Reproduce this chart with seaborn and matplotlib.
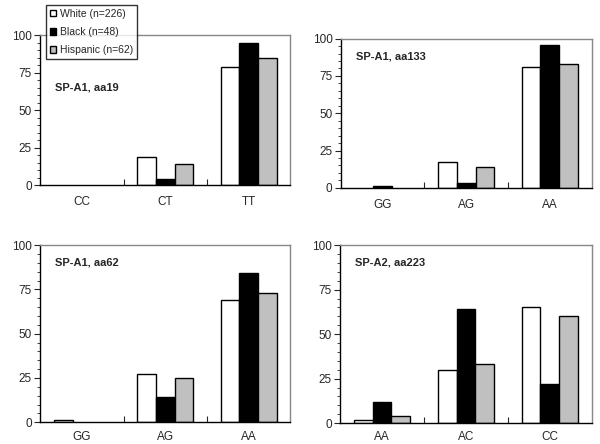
import pandas as pd
import numpy as np
import seaborn as sns
import matplotlib.pyplot as plt
from matplotlib.patches import Patch
from matplotlib.ticker import MultipleLocator, FixedLocator

groups = ['White (n=226)', 'Black (n=48)', 'Hispanic (n=62)']
colors = ['white', 'black', '#c0c0c0']

titles = ['SP-A1, aa19', 'SP-A1, aa133', 'SP-A1, aa62', 'SP-A2, aa223']
genotypes = [['CC', 'CT', 'TT'],
             ['GG', 'AG', 'AA'],
             ['GG', 'AG', 'AA'],
             ['AA', 'AC', 'CC']]
# percentages per genotype: White, Black, Hispanic
white = [[0, 18.5, 79], [0, 17, 81], [1, 27, 69], [2, 30, 65]]
black = [[0, 4, 95], [1, 3, 95.5], [0, 14, 84.5], [12, 64, 22]]
hispanic = [[0, 14, 85], [0, 14, 83], [0, 25, 73], [4, 33, 60]]

sns.set_style('white')
plt.rcParams['font.family'] = ['Liberation Sans', 'DejaVu Sans']

fig = plt.figure(figsize=(6, 4.44), dpi=100)
positions = [[0.067, 0.583, 0.417, 0.338],
             [0.568, 0.577, 0.418, 0.336],
             [0.067, 0.049, 0.417, 0.399],
             [0.567, 0.047, 0.419, 0.401]]
label_y = [65, 88, 90, 90]
xpad = [8, 8, 6, 6]

for i in range(4):
    ax = fig.add_axes(positions[i])
    rows = []
    for j, g in enumerate(genotypes[i]):
        rows.append((g, groups[0], white[i][j]))
        rows.append((g, groups[1], black[i][j]))
        rows.append((g, groups[2], hispanic[i][j]))
    df = pd.DataFrame(rows, columns=['genotype', 'group', 'pct'])
    sns.barplot(data=df, x='genotype', y='pct', hue='group', palette=colors,
                width=0.67, edgecolor='black', linewidth=1.0, ax=ax,
                legend=False, saturation=1)
    # empty bars are not drawn in the original
    for p in ax.patches:
        if p.get_height() == 0:
            p.set_visible(False)
    ax.set_xlim(-0.5, 2.5)
    ax.set_ylim(0, 100)
    ax.set_xlabel('')
    ax.set_ylabel('')
    ax.set_yticks([0, 25, 50, 75, 100])
    ax.yaxis.set_minor_locator(MultipleLocator(5))
    ax.xaxis.set_minor_locator(FixedLocator([0.5, 1.5]))
    ax.tick_params(axis='y', which='major', direction='out', length=4, width=0.8,
                   labelsize=8.5, left=True, pad=2)
    ax.tick_params(axis='y', which='minor', direction='out', length=2, width=0.6, left=True)
    ax.tick_params(axis='x', which='major', length=0, labelsize=8.5, pad=xpad[i])
    ax.tick_params(axis='x', which='minor', direction='in', length=4, width=0.8, bottom=True)
    for s in ['left', 'bottom']:
        ax.spines[s].set_color('black')
        ax.spines[s].set_linewidth(1.0)
    for s in ['top', 'right']:
        ax.spines[s].set_color('#888888')
        ax.spines[s].set_linewidth(1.0)
    ax.text(0.06, label_y[i], titles[i], transform=ax.get_yaxis_transform(),
            fontsize=8, fontweight='bold', va='center', ha='left')
    if i == 0:
        handles = [Patch(facecolor=c, edgecolor='black', linewidth=1.0) for c in colors]
        leg = ax.legend(handles, groups, loc='upper left', bbox_to_anchor=(0.024, 1.2),
                        frameon=True, fancybox=False, edgecolor='black', fontsize=7.5,
                        handlelength=0.6, handleheight=0.6, handletextpad=0.4,
                        borderpad=0.35, labelspacing=0.8, borderaxespad=0)
        leg.get_frame().set_linewidth(1.0)

fig.savefig('out.png', dpi=100)
